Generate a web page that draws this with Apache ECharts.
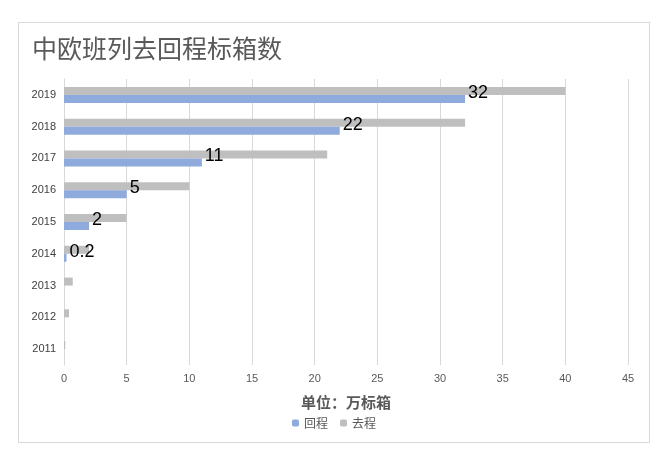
<!DOCTYPE html>
<html>
<head>
<meta charset="utf-8">
<script src="https://cdn.jsdelivr.net/npm/echarts@6/dist/echarts.min.js"></script>
<style>
  html, body { margin: 0; padding: 0; background: #fff; }
  #main { position: absolute; left: 18px; top: 22px; width: 632px; height: 421px; border: 1px solid #d9d9d9; box-sizing: border-box; }
</style>
</head>
<body>
<div id="main"></div>
<script>
var years = ['2011', '2012', '2013', '2014', '2015', '2016', '2017', '2018', '2019'];
var huicheng = [0, 0, 0, 0.2, 2, 5, 11, 22, 32];
var qucheng = [0.1, 0.4, 0.7, 2, 5, 10, 21, 32, 40];

var option = {
    title: {
        text: '中欧班列去回程标箱数',
        left: 8,
        top: 8,
        textStyle: { fontSize: 25, fontWeight: 'normal', color: '#595959', fontFamily: 'Noto Sans CJK SC' }
    },
    legend: {
        data: ['回程', '去程'],
        bottom: 8,
        itemWidth: 7,
        itemHeight: 7,
        itemGap: 12,
        textStyle: { fontSize: 12, color: '#595959', fontFamily: 'Noto Sans CJK SC' }
    },
    grid: { left: 45, right: 21, top: 56, bottom: 77 },
    xAxis: {
        type: 'value',
        min: 0,
        max: 45,
        interval: 5,
        name: '单位：万标箱',
        nameLocation: 'middle',
        nameGap: 30,
        nameTextStyle: { fontSize: 15, fontWeight: 'bold', color: '#595959', fontFamily: 'Noto Sans CJK SC' },
        axisLine: { show: false },
        axisTick: { show: false },
        axisLabel: { color: '#595959', fontSize: 11 },
        splitLine: { lineStyle: { color: '#d9d9d9' } }
    },
    yAxis: {
        type: 'category',
        data: years,
        axisLine: { lineStyle: { color: '#d9d9d9' } },
        axisTick: { show: false },
        axisLabel: { color: '#404040', fontSize: 11 }
    },
    series: [
        {
            name: '去程',
            type: 'bar',
            data: qucheng,
            barWidth: 8,
            barGap: '0%',
            itemStyle: { color: '#bfbfbf' }
        },
        {
            name: '回程',
            type: 'bar',
            data: huicheng,
            barWidth: 8,
            barGap: '0%',
            itemStyle: { color: '#8faadc' },
            label: {
                show: true,
                position: 'right',
                offset: [-2, -6],
                fontSize: 18,
                color: '#000',
                formatter: function (p) { return p.value > 0 ? p.value : ''; }
            }
        }
    ]
};

var myChart = echarts.init(document.getElementById('main'));
myChart.setOption(option);
</script>
</body>
</html>
